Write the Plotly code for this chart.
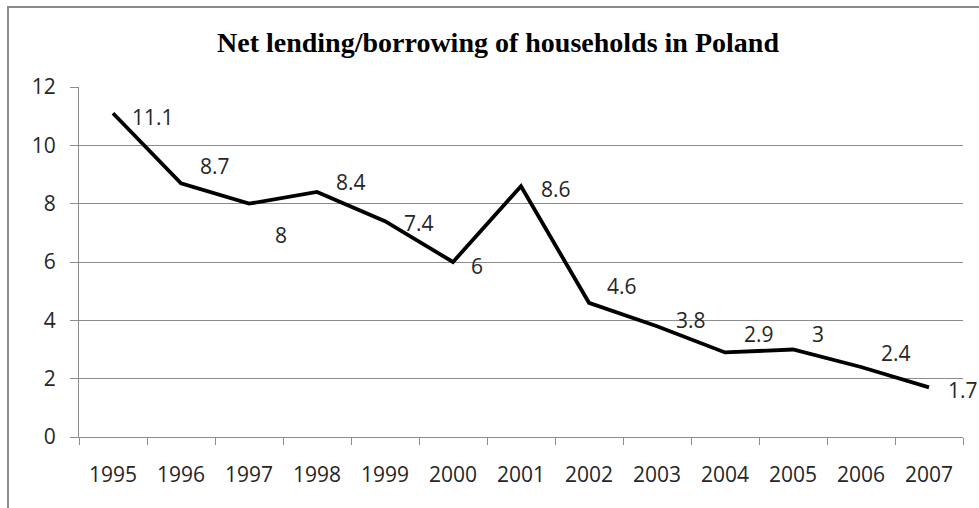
import plotly.graph_objects as go

# Net lending/borrowing of households in Poland (% of disposable income)
years = ["1995", "1996", "1997", "1998", "1999", "2000", "2001",
         "2002", "2003", "2004", "2005", "2006", "2007"]
values = [11.1, 8.7, 8.0, 8.4, 7.4, 6.0, 8.6, 4.6, 3.8, 2.9, 3.0, 2.4, 1.7]
y_ticks = [0, 2, 4, 6, 8, 10, 12]

# per-label offsets (pixels: right, up) for the value labels
label_offsets = [(40, -4), (34, 17), (32, -31), (34, 10), (34, -2), (24, -4), (35, -3),
                 (33, 17), (34, 6), (34, 18), (25, 16), (35, 14), (34, -3)]

W, H = 979, 508
L, R, T, B = 79, 16, 87, 71
plot_w = W - L - R
plot_h = H - T - B

grid = "#8c8c8c"
text_col = "#262626"
label_font = dict(family="Open Sans", size=21, color=text_col)

fig = go.Figure()
fig.add_trace(go.Scatter(
    x=years, y=values, mode="lines",
    line=dict(color="black", width=3.8),
    hoverinfo="x+y", showlegend=False,
))

# value labels, positioned by category index on the x axis
for i, (v, (dx, dy)) in enumerate(zip(values, label_offsets)):
    fig.add_annotation(
        x=i, y=v, text=f"{v:g}", showarrow=False,
        xshift=dx, yshift=dy, font=label_font,
        xanchor="center", yanchor="middle",
    )

# outer chart frame (top and left edges are visible)
def px_x(p):
    return (p - L) / plot_w

def px_y(p):
    return (H - B - p) / plot_h

fig.add_shape(type="rect", xref="paper", yref="paper",
              x0=px_x(8), x1=px_x(W + 20), y0=px_y(7), y1=px_y(H + 20),
              line=dict(color="#8a8a8a", width=2), fillcolor="rgba(0,0,0,0)",
              layer="below")

fig.update_layout(
    width=W, height=H,
    margin=dict(l=L, r=R, t=T, b=B, pad=0),
    paper_bgcolor="white", plot_bgcolor="white",
    title=dict(
        text="<b>Net lending/borrowing of households in Poland</b>",
        font=dict(family="Liberation Serif", size=28, color="black"),
        x=498 / W, xanchor="center", xref="container",
        y=1 - 42 / H, yanchor="middle", yref="container",
    ),
    xaxis=dict(
        type="category", range=[-0.5, len(years) - 0.5],
        showline=True, linecolor=grid, linewidth=1,
        ticks="outside", tickson="boundaries", ticklen=7, tickcolor=grid,
        showgrid=False, zeroline=False,
        tickfont=label_font, ticklabelstandoff=19,
    ),
    yaxis=dict(
        range=[0, 12], tickvals=y_ticks,
        showline=True, linecolor=grid, linewidth=1,
        ticks="outside", ticklen=8, tickcolor=grid,
        showgrid=True, gridcolor=grid, gridwidth=1,
        zeroline=False,
        tickfont=label_font, ticklabelstandoff=10,
    ),
)

fig.write_html("out.html")
